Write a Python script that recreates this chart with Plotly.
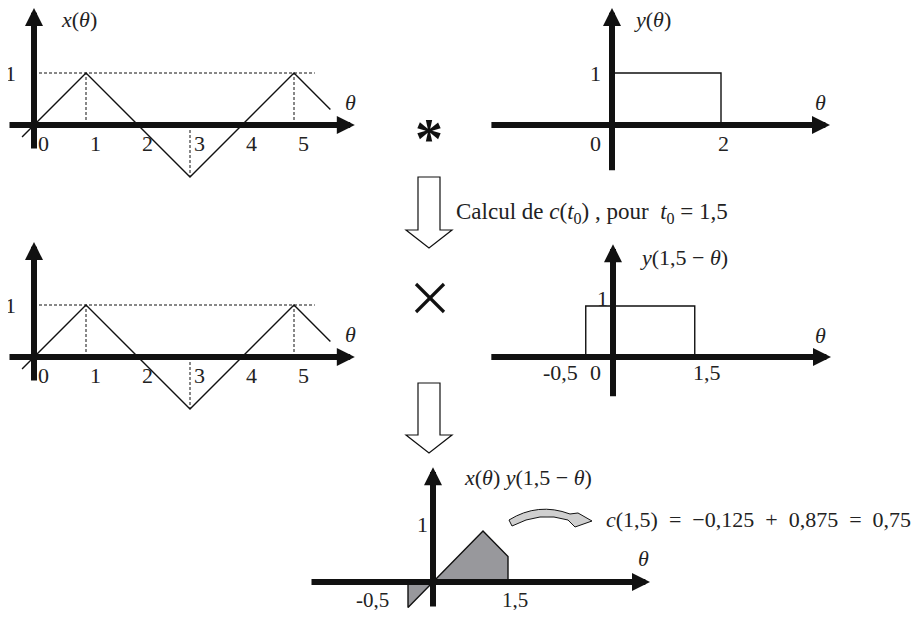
import plotly.graph_objects as go

OFF = 8  # page body margin around the figure
W, H = 924 - 2 * OFF, 618 - 2 * OFF
FONT = "Liberation Serif"

# ---- data ----
# x(theta): triangle wave
x_theta = [-0.23, 1, 3, 5, 5.7]
x_vals = [-0.23, 1, -1, 1, 0.3]
x_peak_theta = [1, 3, 5]
x_peak_vals = [1, -1, 1]
x_ticks = [0, 1, 2, 3, 4, 5]
x_tick_text = ["0", "1", "2", "3", "4", "5"]

# y(theta): rectangle on [0, 2]
y_theta = [0, 0, 2, 2]
y_vals = [0, 1, 1, 0]
y_ticks = [0, 2]
y_tick_text = ["0", "2"]

# y(1,5 - theta): rectangle on [-0.5, 1.5]
ys_theta = [-0.5, -0.5, 1.5, 1.5]
ys_vals = [0, 1, 1, 0]
ys_ticks = [-0.5, 0, 1.5]
ys_tick_text = ["-0,5", "0", "1,5"]

# product x(theta) y(1,5 - theta)
prod_pos_theta = [0, 1, 1.5, 1.5, 0]
prod_pos_vals = [0, 1, 0.5, 0, 0]
prod_neg_theta = [-0.5, -0.5, 0, -0.5]
prod_neg_vals = [0, -0.5, 0, 0]
prod_ticks = [-0.5, 1.5]
prod_tick_text = ["-0,5", "1,5"]

# ---- panel placement (screen pixel origin, pixels per unit) ----
panels = {
    "A": dict(ox=34, oy=125, kx=52, ky=52, ax="x", ay="y"),
    "B": dict(ox=612, oy=125, kx=54.5, ky=52, ax="x2", ay="y2"),
    "C": dict(ox=34, oy=357, kx=52, ky=52, ax="x3", ay="y3"),
    "D": dict(ox=613, oy=357, kx=54.5, ky=51, ax="x4", ay="y4"),
    "E": dict(ox=433, oy=582, kx=50, ky=51, ax="x5", ay="y5"),
}
# axis extents: (theta start, theta tip, value bottom, value tip)
extents = {
    "A": (-0.5, 6.17, -0.48, 2.25),
    "B": (-2.24, 4.0, -0.9, 2.25),
    "C": (-0.5, 6.17, -0.48, 2.21),
    "D": (-2.26, 4.0, -0.8, 2.21),
    "E": (-2.46, 4.34, -0.51, 2.25),
}

fig = go.Figure()
layout = dict(width=W, height=H, margin=dict(l=0, r=0, t=0, b=0),
              plot_bgcolor="white", paper_bgcolor="white", showlegend=False)
annotations = []
shapes = []

for i, (name, p) in enumerate(panels.items()):
    suffix = "" if i == 0 else str(i + 1)
    ox, oy = p["ox"] - OFF, p["oy"] - OFF
    xr = [-ox / p["kx"], (W - ox) / p["kx"]]
    yr = [-(H - oy) / p["ky"], oy / p["ky"]]
    xa = dict(range=xr, domain=[0, 1], visible=False, fixedrange=True)
    ya = dict(range=yr, domain=[0, 1], visible=False, fixedrange=True)
    if i > 0:
        xa.update(overlaying="x", anchor="y" + suffix)
        ya.update(overlaying="y", anchor="x" + suffix)
    layout["xaxis" + suffix] = xa
    layout["yaxis" + suffix] = ya
    t0, t1, v0, v1 = extents[name]
    for (hx, hy, tx, ty) in [(t1, 0, t0, 0), (0, v1, 0, v0)]:
        annotations.append(dict(x=hx, y=hy, ax=tx, ay=ty, xref=p["ax"], yref=p["ay"],
                                axref=p["ax"], ayref=p["ay"], text="", showarrow=True,
                                arrowhead=2, arrowsize=0.6, arrowwidth=6,
                                arrowcolor="#111111", standoff=0))


def line(xs, ys, ax, ay, dash="solid", width=1.4):
    fig.add_trace(go.Scatter(x=xs, y=ys, xaxis=ax, yaxis=ay, mode="lines",
                             line=dict(color="#111111", width=width, dash=dash),
                             hoverinfo="skip", cliponaxis=False))


def label(text, x, y, ax, ay, size=22, xanchor="center"):
    annotations.append(dict(x=x, y=y, xref=ax, yref=ay, text=text, showarrow=False,
                            xanchor=xanchor, yanchor="middle", borderpad=0,
                            font=dict(family=FONT, size=size, color="#222222")))


TH = "<i>θ</i>"

# panels A and C: x(theta)
for name in ["A", "C"]:
    ax, ay = panels[name]["ax"], panels[name]["ay"]
    line([0, 5.4], [1, 1], ax, ay, dash="3px,2px", width=1)
    for t, v in zip(x_peak_theta, x_peak_vals):
        line([t, t], [0, v], ax, ay, dash="3px,2px", width=1)
    line(x_theta, x_vals, ax, ay)
    for t, s in zip(x_ticks, x_tick_text):
        label(s, t + 0.19, -0.35, ax, ay)
    label("1", -0.46, 1, ax, ay)
    label(TH, 6.08, 0.44, ax, ay)
label("<i>x</i>(" + TH + ")", 0.86, 2.02, "x", "y")

# panel B: y(theta)
ax, ay = panels["B"]["ax"], panels["B"]["ay"]
line(y_theta, y_vals, ax, ay)
for t, s in zip(y_ticks, y_tick_text):
    label(s, t - 0.31 if t == 0 else t + 0.04, -0.35, ax, ay)
label("1", -0.31, 1, ax, ay)
label("<i>y</i>(" + TH + ")", 0.75, 2.02, ax, ay)
label(TH, 3.82, 0.44, ax, ay)

# panel D: y(1,5 - theta)
ax, ay = panels["D"]["ax"], panels["D"]["ay"]
line(ys_theta, ys_vals, ax, ay)
offs = {-0.5: -0.46, 0: -0.33, 1.5: 0.22}
for t, s in zip(ys_ticks, ys_tick_text):
    label(s, t + offs[t], -0.31, ax, ay)
label("1", -0.2, 1.15, ax, ay)
label("<i>y</i>(1,5 − " + TH + ")", 1.3, 1.96, ax, ay)
label(TH, 3.8, 0.42, ax, ay)

# panel E: product
ax, ay = panels["E"]["ax"], panels["E"]["ay"]
for xs, vs in [(prod_pos_theta, prod_pos_vals), (prod_neg_theta, prod_neg_vals)]:
    fig.add_trace(go.Scatter(x=xs, y=vs, xaxis=ax, yaxis=ay, mode="lines", fill="toself",
                             fillcolor="#98989c", line=dict(color="#111111", width=1.4),
                             hoverinfo="skip", cliponaxis=False))
offs = {-0.5: -0.72, 1.5: 0.14}
for t, s in zip(prod_ticks, prod_tick_text):
    label(s, t + offs[t], -0.35, ax, ay, size=21)
label("1", -0.22, 1.12, ax, ay)
label("<i>x</i>(" + TH + ") <i>y</i>(1,5 − " + TH + ")", 1.9, 2.04, ax, ay)
label(TH, 4.2, 0.47, ax, ay)
label("<i>c</i>(1,5)&nbsp; =&nbsp; −0,125&nbsp; +&nbsp; 0,875&nbsp; =&nbsp; 0,75",
      3.44, 1.22, ax, ay, size=22, xanchor="left")


# ---- decorations in screen pixels ----
def pp(x, y):
    return f"{(x - OFF) / W:.5f},{1 - (y - OFF) / H:.5f}"


def block_arrow(top, base, tip):
    pts = [(418, top), (440, top), (440, base), (452, base), (429, tip), (406, base), (418, base)]
    return "M" + " L".join(pp(*q) for q in pts) + " Z"


for top, base, tip in [(177, 230, 248), (383, 435, 453)]:
    shapes.append(dict(type="path", xref="paper", yref="paper", path=block_arrow(top, base, tip),
                       line=dict(color="#111111", width=1.2), fillcolor="white"))

# multiplication cross
for (a, b, c, d) in [(416, 284, 444, 312), (444, 284, 416, 312)]:
    shapes.append(dict(type="line", xref="paper", yref="paper", x0=(a - OFF) / W,
                       y0=1 - (b - OFF) / H, x1=(c - OFF) / W, y1=1 - (d - OFF) / H,
                       line=dict(color="#111111", width=3.2)))

# curved arrow
curve = ("M" + pp(509, 520) + " Q" + pp(538, 502) + " " + pp(570, 514) +
         " L" + pp(578, 513) + " L" + pp(592, 521) + " L" + pp(575, 527) +
         " L" + pp(568, 520) + " Q" + pp(540, 511) + " " + pp(512, 526) + " Z")
shapes.append(dict(type="path", xref="paper", yref="paper", path=curve,
                   line=dict(color="#111111", width=1), fillcolor="#cfcfcf"))

annotations.append(dict(x=(429 - OFF) / W, y=1 - (127 - OFF) / H, xref="paper", yref="paper",
                        text="<b>*</b>", showarrow=False, yanchor="middle",
                        font=dict(family=FONT, size=56, color="#111111"), yshift=-12))
annotations.append(dict(x=(455 - OFF) / W, y=1 - (213 - OFF) / H, xref="paper", yref="paper",
                        text="Calcul de <i>c</i>(<i>t</i><sub>0</sub>)&nbsp;, pour&nbsp; "
                             "<i>t</i><sub>0</sub>&nbsp;=&nbsp;1,5",
                        showarrow=False, xanchor="left", yanchor="middle", borderpad=0,
                        font=dict(family=FONT, size=23, color="#222222")))

layout["annotations"] = annotations
layout["shapes"] = shapes
fig.update_layout(**layout)
fig.write_html("out.html")
